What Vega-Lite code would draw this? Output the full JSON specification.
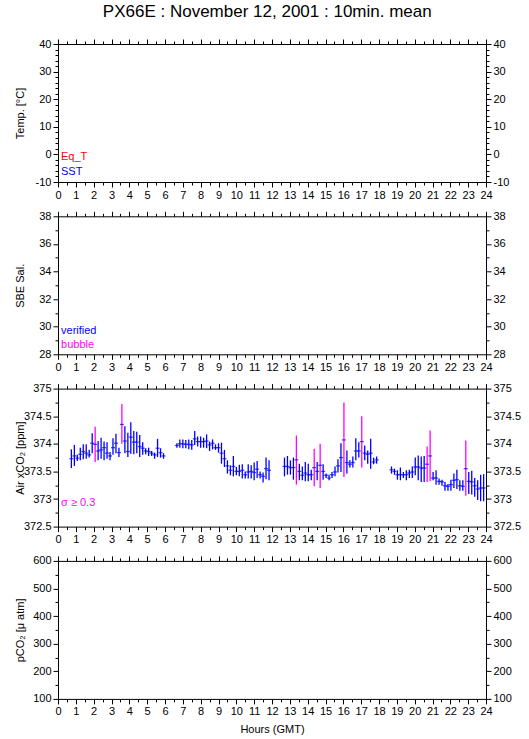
{
  "$schema": "https://vega.github.io/schema/vega-lite/v6.json",
  "padding": {"left": 14, "top": 3, "right": 5, "bottom": 2},
  "bounds": "flush",
  "spacing": 34.3,
  "resolve": {"scale": {"color": "independent"}},
  "title": {"text": "PX66E : November 12, 2001 : 10min. mean", "font": "Liberation Sans", "fontSize": 17, "fontWeight": "normal", "color": "black", "anchor": "middle", "offset": 17},
  "config": {
    "font": "Liberation Sans",
    "view": {"stroke": null},
    "axis": {"labelFont": "Liberation Sans", "labelFontSize": 11, "labelColor": "black", "tickColor": "black", "domainColor": "black", "titleFont": "Liberation Sans", "titleFontSize": 11, "titleFontWeight": "normal", "titleColor": "black", "grid": false, "labelPadding": 2, "labelOverlap": false, "labelFlush": false, "tickWidth": 1, "domainWidth": 1}
  },
  "datasets": {
    "co2": [
      {"t":0.75,"m":373.73,"lo":373.56,"hi":373.90,"f":"n"},
      {"t":0.917,"m":373.78,"lo":373.60,"hi":373.98,"f":"n"},
      {"t":1.083,"m":373.74,"lo":373.69,"hi":373.80,"f":"n"},
      {"t":1.25,"m":373.81,"lo":373.70,"hi":373.93,"f":"n"},
      {"t":1.417,"m":373.86,"lo":373.72,"hi":373.99,"f":"n"},
      {"t":1.583,"m":373.83,"lo":373.73,"hi":373.99,"f":"n"},
      {"t":1.75,"m":373.80,"lo":373.75,"hi":373.89,"f":"n"},
      {"t":1.917,"m":374.01,"lo":373.83,"hi":374.19,"f":"n"},
      {"t":2.083,"m":373.99,"lo":373.67,"hi":374.31,"f":"s"},
      {"t":2.25,"m":373.87,"lo":373.70,"hi":374.05,"f":"n"},
      {"t":2.417,"m":373.89,"lo":373.73,"hi":374.11,"f":"n"},
      {"t":2.583,"m":373.93,"lo":373.70,"hi":374.04,"f":"n"},
      {"t":2.75,"m":373.83,"lo":373.73,"hi":374.03,"f":"n"},
      {"t":2.917,"m":373.78,"lo":373.70,"hi":373.85,"f":"n"},
      {"t":3.083,"m":373.93,"lo":373.80,"hi":374.10,"f":"n"},
      {"t":3.25,"m":374.01,"lo":373.83,"hi":374.18,"f":"n"},
      {"t":3.417,"m":373.84,"lo":373.76,"hi":373.93,"f":"n"},
      {"t":3.583,"m":374.35,"lo":374.00,"hi":374.72,"f":"s"},
      {"t":3.75,"m":374.05,"lo":373.83,"hi":374.32,"f":"n"},
      {"t":3.917,"m":373.86,"lo":373.76,"hi":374.20,"f":"n"},
      {"t":4.083,"m":374.12,"lo":373.82,"hi":374.39,"f":"n"},
      {"t":4.25,"m":374.03,"lo":373.81,"hi":374.23,"f":"n"},
      {"t":4.417,"m":374.03,"lo":373.83,"hi":374.22,"f":"n"},
      {"t":4.583,"m":373.95,"lo":373.76,"hi":374.16,"f":"n"},
      {"t":4.75,"m":373.92,"lo":373.80,"hi":374.03,"f":"n"},
      {"t":4.917,"m":373.87,"lo":373.81,"hi":373.92,"f":"n"},
      {"t":5.083,"m":373.86,"lo":373.78,"hi":373.93,"f":"n"},
      {"t":5.25,"m":373.83,"lo":373.78,"hi":373.87,"f":"n"},
      {"t":5.417,"m":373.80,"lo":373.73,"hi":373.84,"f":"n"},
      {"t":5.583,"m":373.92,"lo":373.76,"hi":374.09,"f":"n"},
      {"t":5.75,"m":373.84,"lo":373.75,"hi":373.92,"f":"n"},
      {"t":5.917,"m":373.78,"lo":373.73,"hi":373.83,"f":"n"},
      {"t":6.667,"m":373.97,"lo":373.93,"hi":374.01,"f":"n"},
      {"t":6.833,"m":374.00,"lo":373.93,"hi":374.08,"f":"n"},
      {"t":7.0,"m":374.00,"lo":373.92,"hi":374.08,"f":"n"},
      {"t":7.167,"m":373.99,"lo":373.92,"hi":374.07,"f":"n"},
      {"t":7.333,"m":373.99,"lo":373.90,"hi":374.08,"f":"n"},
      {"t":7.5,"m":373.98,"lo":373.89,"hi":374.07,"f":"n"},
      {"t":7.667,"m":374.09,"lo":373.98,"hi":374.23,"f":"n"},
      {"t":7.833,"m":374.04,"lo":373.95,"hi":374.13,"f":"n"},
      {"t":8.0,"m":374.04,"lo":373.93,"hi":374.13,"f":"n"},
      {"t":8.167,"m":374.04,"lo":373.93,"hi":374.11,"f":"n"},
      {"t":8.333,"m":374.05,"lo":373.92,"hi":374.17,"f":"n"},
      {"t":8.5,"m":373.98,"lo":373.87,"hi":374.04,"f":"n"},
      {"t":8.667,"m":374.01,"lo":373.90,"hi":374.08,"f":"n"},
      {"t":8.833,"m":373.93,"lo":373.89,"hi":373.99,"f":"n"},
      {"t":9.0,"m":373.93,"lo":373.84,"hi":374.01,"f":"n"},
      {"t":9.167,"m":373.83,"lo":373.64,"hi":374.02,"f":"n"},
      {"t":9.333,"m":373.73,"lo":373.58,"hi":373.89,"f":"n"},
      {"t":9.5,"m":373.60,"lo":373.46,"hi":373.70,"f":"n"},
      {"t":9.667,"m":373.52,"lo":373.43,"hi":373.61,"f":"n"},
      {"t":9.833,"m":373.59,"lo":373.41,"hi":373.78,"f":"n"},
      {"t":10.0,"m":373.50,"lo":373.43,"hi":373.58,"f":"n"},
      {"t":10.167,"m":373.50,"lo":373.41,"hi":373.62,"f":"n"},
      {"t":10.333,"m":373.52,"lo":373.37,"hi":373.63,"f":"n"},
      {"t":10.5,"m":373.44,"lo":373.37,"hi":373.50,"f":"n"},
      {"t":10.667,"m":373.49,"lo":373.37,"hi":373.63,"f":"n"},
      {"t":10.833,"m":373.50,"lo":373.37,"hi":373.61,"f":"n"},
      {"t":11.0,"m":373.48,"lo":373.34,"hi":373.66,"f":"n"},
      {"t":11.167,"m":373.54,"lo":373.38,"hi":373.69,"f":"n"},
      {"t":11.333,"m":373.44,"lo":373.37,"hi":373.50,"f":"n"},
      {"t":11.5,"m":373.41,"lo":373.30,"hi":373.48,"f":"n"},
      {"t":11.667,"m":373.55,"lo":373.36,"hi":373.75,"f":"n"},
      {"t":11.833,"m":373.52,"lo":373.34,"hi":373.70,"f":"n"},
      {"t":12.7,"m":373.59,"lo":373.41,"hi":373.75,"f":"n"},
      {"t":12.867,"m":373.59,"lo":373.44,"hi":373.78,"f":"n"},
      {"t":13.033,"m":373.57,"lo":373.44,"hi":373.70,"f":"n"},
      {"t":13.2,"m":373.57,"lo":373.35,"hi":373.75,"f":"n"},
      {"t":13.367,"m":373.71,"lo":373.26,"hi":374.15,"f":"s"},
      {"t":13.533,"m":373.50,"lo":373.34,"hi":373.64,"f":"n"},
      {"t":13.7,"m":373.43,"lo":373.34,"hi":373.59,"f":"n"},
      {"t":13.867,"m":373.47,"lo":373.32,"hi":373.67,"f":"n"},
      {"t":14.033,"m":373.44,"lo":373.32,"hi":373.64,"f":"n"},
      {"t":14.2,"m":373.44,"lo":373.34,"hi":373.53,"f":"n"},
      {"t":14.367,"m":373.57,"lo":373.23,"hi":373.91,"f":"s"},
      {"t":14.533,"m":373.50,"lo":373.34,"hi":373.67,"f":"n"},
      {"t":14.7,"m":373.61,"lo":373.20,"hi":374.00,"f":"s"},
      {"t":14.867,"m":373.50,"lo":373.35,"hi":373.63,"f":"n"},
      {"t":15.033,"m":373.43,"lo":373.38,"hi":373.46,"f":"n"},
      {"t":15.2,"m":373.38,"lo":373.34,"hi":373.44,"f":"n"},
      {"t":15.367,"m":373.44,"lo":373.38,"hi":373.49,"f":"n"},
      {"t":15.533,"m":373.49,"lo":373.41,"hi":373.59,"f":"n"},
      {"t":15.7,"m":373.60,"lo":373.48,"hi":373.72,"f":"n"},
      {"t":15.867,"m":373.75,"lo":373.49,"hi":374.01,"f":"n"},
      {"t":16.033,"m":374.07,"lo":373.40,"hi":374.75,"f":"s"},
      {"t":16.2,"m":373.66,"lo":373.46,"hi":373.88,"f":"n"},
      {"t":16.367,"m":373.63,"lo":373.57,"hi":373.70,"f":"n"},
      {"t":16.533,"m":373.66,"lo":373.57,"hi":373.77,"f":"n"},
      {"t":16.7,"m":373.87,"lo":373.70,"hi":374.10,"f":"n"},
      {"t":16.867,"m":373.87,"lo":373.75,"hi":374.03,"f":"n"},
      {"t":17.033,"m":374.04,"lo":373.57,"hi":374.50,"f":"s"},
      {"t":17.2,"m":373.83,"lo":373.70,"hi":373.97,"f":"n"},
      {"t":17.367,"m":373.81,"lo":373.64,"hi":373.88,"f":"n"},
      {"t":17.533,"m":373.83,"lo":373.55,"hi":374.09,"f":"n"},
      {"t":17.7,"m":373.67,"lo":373.63,"hi":373.75,"f":"n"},
      {"t":17.867,"m":373.71,"lo":373.64,"hi":373.77,"f":"n"},
      {"t":18.7,"m":373.53,"lo":373.46,"hi":373.59,"f":"n"},
      {"t":18.867,"m":373.50,"lo":373.44,"hi":373.55,"f":"n"},
      {"t":19.033,"m":373.44,"lo":373.35,"hi":373.52,"f":"n"},
      {"t":19.2,"m":373.44,"lo":373.34,"hi":373.57,"f":"n"},
      {"t":19.367,"m":373.44,"lo":373.38,"hi":373.49,"f":"n"},
      {"t":19.533,"m":373.44,"lo":373.34,"hi":373.52,"f":"n"},
      {"t":19.7,"m":373.47,"lo":373.38,"hi":373.53,"f":"n"},
      {"t":19.867,"m":373.49,"lo":373.38,"hi":373.59,"f":"n"},
      {"t":20.033,"m":373.58,"lo":373.43,"hi":373.75,"f":"n"},
      {"t":20.2,"m":373.58,"lo":373.34,"hi":373.79,"f":"n"},
      {"t":20.367,"m":373.56,"lo":373.31,"hi":373.77,"f":"n"},
      {"t":20.533,"m":373.56,"lo":373.31,"hi":373.78,"f":"n"},
      {"t":20.7,"m":373.63,"lo":373.31,"hi":373.95,"f":"s"},
      {"t":20.867,"m":373.78,"lo":373.32,"hi":374.24,"f":"s"},
      {"t":21.033,"m":373.38,"lo":373.34,"hi":373.49,"f":"n"},
      {"t":21.2,"m":373.38,"lo":373.26,"hi":373.52,"f":"n"},
      {"t":21.367,"m":373.32,"lo":373.26,"hi":373.37,"f":"n"},
      {"t":21.533,"m":373.31,"lo":373.24,"hi":373.35,"f":"n"},
      {"t":21.7,"m":373.24,"lo":373.15,"hi":373.31,"f":"n"},
      {"t":21.867,"m":373.23,"lo":373.15,"hi":373.27,"f":"n"},
      {"t":22.033,"m":373.26,"lo":373.15,"hi":373.35,"f":"n"},
      {"t":22.2,"m":373.34,"lo":373.20,"hi":373.46,"f":"n"},
      {"t":22.367,"m":373.35,"lo":373.18,"hi":373.53,"f":"n"},
      {"t":22.533,"m":373.24,"lo":373.15,"hi":373.34,"f":"n"},
      {"t":22.7,"m":373.23,"lo":373.15,"hi":373.34,"f":"n"},
      {"t":22.867,"m":373.55,"lo":373.06,"hi":374.06,"f":"s"},
      {"t":23.033,"m":373.32,"lo":373.09,"hi":373.49,"f":"n"},
      {"t":23.2,"m":373.31,"lo":373.08,"hi":373.51,"f":"n"},
      {"t":23.367,"m":373.24,"lo":373.04,"hi":373.38,"f":"n"},
      {"t":23.533,"m":373.18,"lo":372.98,"hi":373.34,"f":"n"},
      {"t":23.7,"m":373.20,"lo":372.96,"hi":373.44,"f":"n"},
      {"t":23.867,"m":373.20,"lo":372.96,"hi":373.45,"f":"n"}
    ],
    "leg1": [{"label":"Eq_T","t":0.17,"v":-1.0},{"label":"SST","t":0.17,"v":-6.4}],
    "leg2": [{"label":"verified","t":0.17,"v":29.7},{"label":"bubble","t":0.17,"v":28.7}],
    "leg3": [{"label":"σ ≥ 0.3","t":0.17,"v":372.92}],
    "none": []
  },
  "vconcat": [
    {
      "width": 428, "height": 138,
      "layer": [
        {
          "data": {"name": "leg1"},
          "mark": {"type": "text", "align": "left", "baseline": "middle", "fontSize": 11, "font": "Liberation Sans"},
          "encoding": {
            "x": {"field": "t", "type": "quantitative", "scale": {"domain": [0, 24], "nice": false, "zero": false},
                  "axis": {"orient": "bottom", "values": [0,0.5,1,1.5,2,2.5,3,3.5,4,4.5,5,5.5,6,6.5,7,7.5,8,8.5,9,9.5,10,10.5,11,11.5,12,12.5,13,13.5,14,14.5,15,15.5,16,16.5,17,17.5,18,18.5,19,19.5,20,20.5,21,21.5,22,22.5,23,23.5,24],
                           "tickSize": {"condition": {"test": "datum.value % 1 === 0", "value": 5}, "value": 3},
                           "labelExpr": "datum.value % 1 === 0 ? '' + datum.value : ''", "title": null}},
            "y": {"field": "v", "type": "quantitative", "scale": {"domain": [-10, 40], "nice": false, "zero": false},
                  "axis": {"orient": "left", "values": [-10,-8,-6,-4,-2,0,2,4,6,8,10,12,14,16,18,20,22,24,26,28,30,32,34,36,38,40],
                           "tickSize": {"condition": {"test": "datum.value % 10 === 0", "value": 5}, "value": 3},
                           "labelExpr": "datum.value % 10 === 0 ? '' + datum.value : ''",
                           "title": "Temp. [°C]", "titleX": -38, "titleY": 69, "titleAngle": 270, "titleBaseline": "middle", "titleAlign": "center"}},
            "text": {"field": "label"},
            "color": {"field": "label", "type": "nominal", "scale": {"domain": ["Eq_T", "SST"], "range": ["#ff0000", "#0000ff"]}, "legend": null}
          }
        },
        {
          "data": {"name": "none"},
          "mark": "point",
          "encoding": {
            "x": {"field": "t", "type": "quantitative",
                  "axis": {"orient": "top", "values": [0,0.5,1,1.5,2,2.5,3,3.5,4,4.5,5,5.5,6,6.5,7,7.5,8,8.5,9,9.5,10,10.5,11,11.5,12,12.5,13,13.5,14,14.5,15,15.5,16,16.5,17,17.5,18,18.5,19,19.5,20,20.5,21,21.5,22,22.5,23,23.5,24],
                           "tickSize": {"condition": {"test": "datum.value % 1 === 0", "value": 5}, "value": 3}, "labels": false, "title": null}},
            "y": {"field": "v", "type": "quantitative",
                  "axis": {"orient": "right", "values": [-10,-8,-6,-4,-2,0,2,4,6,8,10,12,14,16,18,20,22,24,26,28,30,32,34,36,38,40],
                           "tickSize": {"condition": {"test": "datum.value % 10 === 0", "value": 5}, "value": 3},
                           "labelExpr": "datum.value % 10 === 0 ? '' + datum.value : ''", "title": null}}
          }
        }
      ],
      "resolve": {"axis": {"x": "independent", "y": "independent"}}
    },
    {
      "width": 428, "height": 138,
      "layer": [
        {
          "data": {"name": "leg2"},
          "mark": {"type": "text", "align": "left", "baseline": "middle", "fontSize": 11, "font": "Liberation Sans"},
          "encoding": {
            "x": {"field": "t", "type": "quantitative", "scale": {"domain": [0, 24], "nice": false, "zero": false},
                  "axis": {"orient": "bottom", "values": [0,0.5,1,1.5,2,2.5,3,3.5,4,4.5,5,5.5,6,6.5,7,7.5,8,8.5,9,9.5,10,10.5,11,11.5,12,12.5,13,13.5,14,14.5,15,15.5,16,16.5,17,17.5,18,18.5,19,19.5,20,20.5,21,21.5,22,22.5,23,23.5,24],
                           "tickSize": {"condition": {"test": "datum.value % 1 === 0", "value": 5}, "value": 3},
                           "labelExpr": "datum.value % 1 === 0 ? '' + datum.value : ''", "title": null}},
            "y": {"field": "v", "type": "quantitative", "scale": {"domain": [28, 38], "nice": false, "zero": false},
                  "axis": {"orient": "left", "values": [28,29,30,31,32,33,34,35,36,37,38],
                           "tickSize": {"condition": {"test": "datum.value % 2 === 0", "value": 5}, "value": 3},
                           "labelExpr": "datum.value % 2 === 0 ? '' + datum.value : ''",
                           "title": "SBE Sal.", "titleX": -38, "titleY": 69, "titleAngle": 270, "titleBaseline": "middle", "titleAlign": "center"}},
            "text": {"field": "label"},
            "color": {"field": "label", "type": "nominal", "scale": {"domain": ["verified", "bubble"], "range": ["#0000ff", "#ff00ff"]}, "legend": null}
          }
        },
        {
          "data": {"name": "none"},
          "mark": "point",
          "encoding": {
            "x": {"field": "t", "type": "quantitative",
                  "axis": {"orient": "top", "values": [0,0.5,1,1.5,2,2.5,3,3.5,4,4.5,5,5.5,6,6.5,7,7.5,8,8.5,9,9.5,10,10.5,11,11.5,12,12.5,13,13.5,14,14.5,15,15.5,16,16.5,17,17.5,18,18.5,19,19.5,20,20.5,21,21.5,22,22.5,23,23.5,24],
                           "tickSize": {"condition": {"test": "datum.value % 1 === 0", "value": 5}, "value": 3}, "labels": false, "title": null}},
            "y": {"field": "v", "type": "quantitative",
                  "axis": {"orient": "right", "values": [28,29,30,31,32,33,34,35,36,37,38],
                           "tickSize": {"condition": {"test": "datum.value % 2 === 0", "value": 5}, "value": 3},
                           "labelExpr": "datum.value % 2 === 0 ? '' + datum.value : ''", "title": null}}
          }
        }
      ],
      "resolve": {"axis": {"x": "independent", "y": "independent"}}
    },
    {
      "width": 428, "height": 138,
      "layer": [
        {
          "data": {"name": "co2"},
          "mark": {"type": "rule", "strokeWidth": 1.3},
          "encoding": {
            "x": {"field": "t", "type": "quantitative", "scale": {"domain": [0, 24], "nice": false, "zero": false},
                  "axis": {"orient": "bottom", "values": [0,0.5,1,1.5,2,2.5,3,3.5,4,4.5,5,5.5,6,6.5,7,7.5,8,8.5,9,9.5,10,10.5,11,11.5,12,12.5,13,13.5,14,14.5,15,15.5,16,16.5,17,17.5,18,18.5,19,19.5,20,20.5,21,21.5,22,22.5,23,23.5,24],
                           "tickSize": {"condition": {"test": "datum.value % 1 === 0", "value": 5}, "value": 3},
                           "labelExpr": "datum.value % 1 === 0 ? '' + datum.value : ''", "title": null}},
            "y": {"field": "lo", "type": "quantitative", "scale": {"domain": [372.5, 375], "nice": false, "zero": false},
                  "axis": {"orient": "left", "values": [372.5,372.75,373,373.25,373.5,373.75,374,374.25,374.5,374.75,375],
                           "tickSize": {"condition": {"test": "datum.value % 0.5 === 0", "value": 5}, "value": 3},
                           "labelExpr": "datum.value % 0.5 === 0 ? '' + datum.value : ''",
                           "title": "Air xCO₂ [ppm]", "titleX": -38, "titleY": 69, "titleAngle": 270, "titleBaseline": "middle", "titleAlign": "center"}},
            "y2": {"field": "hi"},
            "color": {"field": "f", "type": "nominal", "scale": {"domain": ["n", "s"], "range": ["#0000ff", "#ff00ff"]}, "legend": null}
          }
        },
        {
          "data": {"name": "co2"},
          "mark": {"type": "tick", "orient": "horizontal", "color": "#0000ff", "size": 4, "thickness": 1.3},
          "encoding": {
            "x": {"field": "t", "type": "quantitative",
                  "axis": {"orient": "top", "values": [0,0.5,1,1.5,2,2.5,3,3.5,4,4.5,5,5.5,6,6.5,7,7.5,8,8.5,9,9.5,10,10.5,11,11.5,12,12.5,13,13.5,14,14.5,15,15.5,16,16.5,17,17.5,18,18.5,19,19.5,20,20.5,21,21.5,22,22.5,23,23.5,24],
                           "tickSize": {"condition": {"test": "datum.value % 1 === 0", "value": 5}, "value": 3}, "labels": false, "title": null}},
            "y": {"field": "m", "type": "quantitative",
                  "axis": {"orient": "right", "values": [372.5,372.75,373,373.25,373.5,373.75,374,374.25,374.5,374.75,375],
                           "tickSize": {"condition": {"test": "datum.value % 0.5 === 0", "value": 5}, "value": 3},
                           "labelExpr": "datum.value % 0.5 === 0 ? '' + datum.value : ''", "title": null}}
          }
        },
        {
          "data": {"name": "leg3"},
          "mark": {"type": "text", "align": "left", "baseline": "middle", "fontSize": 11, "font": "Liberation Sans", "color": "#ff00ff"},
          "encoding": {
            "x": {"field": "t", "type": "quantitative", "axis": null},
            "y": {"field": "v", "type": "quantitative", "axis": null},
            "text": {"field": "label"}
          }
        }
      ],
      "resolve": {"axis": {"x": "independent", "y": "independent"}}
    },
    {
      "width": 428, "height": 138,
      "layer": [
        {
          "data": {"name": "none"},
          "mark": "point",
          "encoding": {
            "x": {"field": "t", "type": "quantitative", "scale": {"domain": [0, 24], "nice": false, "zero": false},
                  "axis": {"orient": "bottom", "values": [0,0.5,1,1.5,2,2.5,3,3.5,4,4.5,5,5.5,6,6.5,7,7.5,8,8.5,9,9.5,10,10.5,11,11.5,12,12.5,13,13.5,14,14.5,15,15.5,16,16.5,17,17.5,18,18.5,19,19.5,20,20.5,21,21.5,22,22.5,23,23.5,24],
                           "tickSize": {"condition": {"test": "datum.value % 1 === 0", "value": 5}, "value": 3},
                           "labelExpr": "datum.value % 1 === 0 ? '' + datum.value : ''", "title": "Hours (GMT)", "titlePadding": 7}},
            "y": {"field": "v", "type": "quantitative", "scale": {"domain": [100, 600], "nice": false, "zero": false},
                  "axis": {"orient": "left", "values": [100,150,200,250,300,350,400,450,500,550,600],
                           "tickSize": {"condition": {"test": "datum.value % 100 === 0", "value": 5}, "value": 3},
                           "labelExpr": "datum.value % 100 === 0 ? '' + datum.value : ''",
                           "title": "pCO₂ [μ atm]", "titleX": -38, "titleY": 69, "titleAngle": 270, "titleBaseline": "middle", "titleAlign": "center"}}
          }
        },
        {
          "data": {"name": "none"},
          "mark": "point",
          "encoding": {
            "x": {"field": "t", "type": "quantitative",
                  "axis": {"orient": "top", "values": [0,0.5,1,1.5,2,2.5,3,3.5,4,4.5,5,5.5,6,6.5,7,7.5,8,8.5,9,9.5,10,10.5,11,11.5,12,12.5,13,13.5,14,14.5,15,15.5,16,16.5,17,17.5,18,18.5,19,19.5,20,20.5,21,21.5,22,22.5,23,23.5,24],
                           "tickSize": {"condition": {"test": "datum.value % 1 === 0", "value": 5}, "value": 3}, "labels": false, "title": null}},
            "y": {"field": "v", "type": "quantitative",
                  "axis": {"orient": "right", "values": [100,150,200,250,300,350,400,450,500,550,600],
                           "tickSize": {"condition": {"test": "datum.value % 100 === 0", "value": 5}, "value": 3},
                           "labelExpr": "datum.value % 100 === 0 ? '' + datum.value : ''", "title": null}}
          }
        }
      ],
      "resolve": {"axis": {"x": "independent", "y": "independent"}}
    }
  ]
}
